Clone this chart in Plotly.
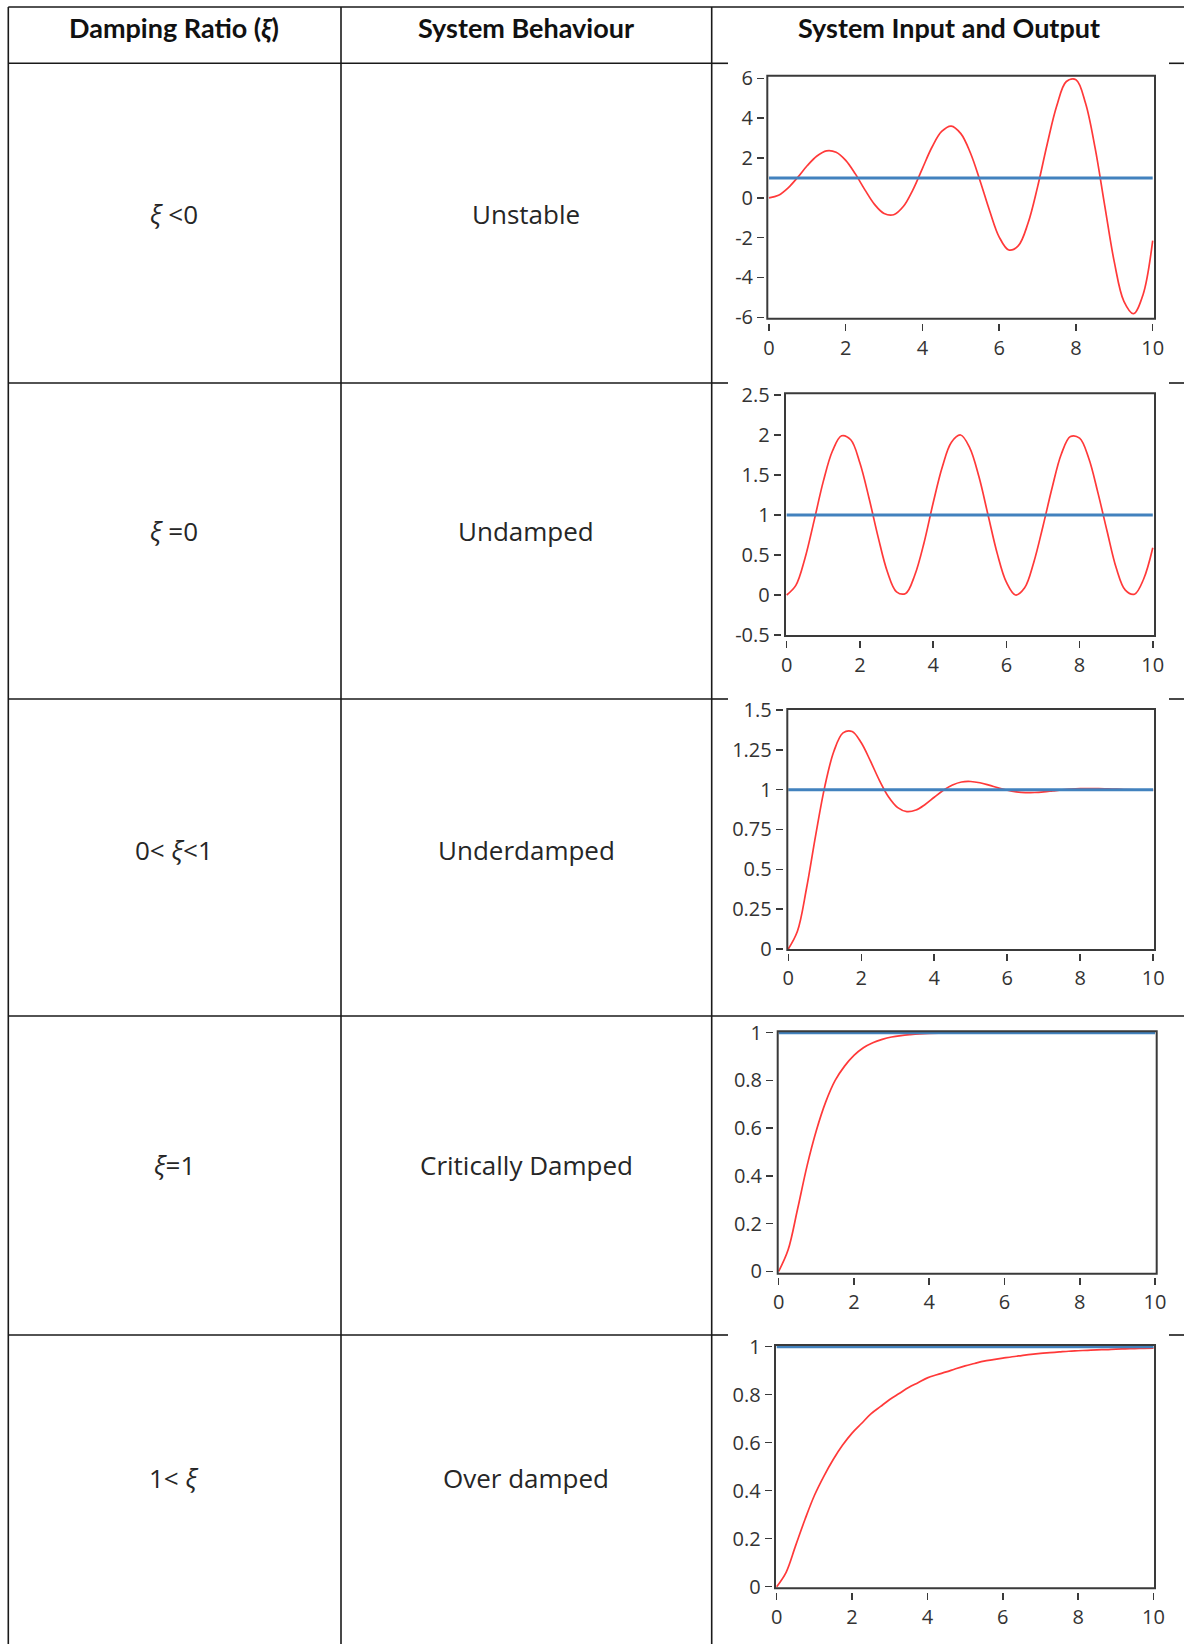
import plotly.graph_objects as go

# ---------------- data ----------------
t = [0, 0.25, 0.5, 0.75, 1, 1.25, 1.5, 1.75, 2, 2.25, 2.5, 2.75, 3, 3.25, 3.5, 3.75,
     4, 4.25, 4.5, 4.75, 5, 5.25, 5.5, 5.75, 6, 6.25, 6.5, 6.75, 7, 7.25, 7.5, 7.75,
     8, 8.25, 8.5, 8.75, 9, 9.25, 9.5, 9.75, 10]

unstable_out = [0, 0.13, 0.50, 1.03, 1.62, 2.10, 2.36, 2.29, 1.88, 1.20, 0.40, -0.33,
                -0.79, -0.85, -0.44, 0.40, 1.48, 2.55, 3.33, 3.60, 3.22, 2.25, 0.86,
                -0.65, -1.97, -2.62, -2.40, -1.28, 0.55, 2.69, 4.62, 5.84, 5.93, 4.75,
                2.49, -0.39, -3.23, -5.20, -5.82, -4.85, -2.15]

undamped_out = [0, 0.12, 0.46, 0.93, 1.42, 1.80, 1.99, 1.94, 1.65, 1.21, 0.72, 0.29,
                0.04, 0.02, 0.25, 0.65, 1.15, 1.60, 1.91, 2.00, 1.84, 1.48, 1.00, 0.52,
                0.16, 0.00, 0.09, 0.41, 0.86, 1.34, 1.76, 1.98, 1.96, 1.71, 1.28, 0.80,
                0.34, 0.06, 0.01, 0.20, 0.59]

underdamped_out = [0, 0.111, 0.381, 0.713, 1.019, 1.241, 1.356, 1.365, 1.294, 1.180,
                   1.057, 0.954, 0.887, 0.862, 0.872, 0.907, 0.952, 0.996, 1.029, 1.048,
                   1.051, 1.043, 1.028, 1.011, 0.996, 0.986, 0.981, 0.982, 0.986, 0.992,
                   0.998, 1.003, 1.006, 1.007, 1.007, 1.005, 1.003, 1.000, 0.998, 0.997,
                   0.997]

critical_out = [0, 0.09, 0.26, 0.44, 0.59, 0.71, 0.80, 0.86, 0.905, 0.937, 0.958, 0.972,
                0.982, 0.988, 0.992, 0.995, 0.997, 0.998, 0.998, 0.999, 0.999, 1.0, 1.0,
                1.0, 1.0, 1.0, 1.0, 1.0, 1.0, 1.0, 1.0, 1.0, 1.0, 1.0, 1.0, 1.0, 1.0,
                1.0, 1.0, 1.0, 1.0]

overdamped_out = [0, 0.06, 0.17, 0.28, 0.38, 0.46, 0.53, 0.59, 0.64, 0.68, 0.72, 0.75,
                  0.78, 0.805, 0.83, 0.85, 0.87, 0.883, 0.895, 0.908, 0.92, 0.93, 0.94,
                  0.946, 0.952, 0.958, 0.963, 0.968, 0.972, 0.975, 0.978, 0.981, 0.983,
                  0.985, 0.987, 0.988, 0.99, 0.991, 0.992, 0.993, 0.994]

step_t = [0, 10]
step_in = [1, 1]

header_labels = ["<b>Damping Ratio (<i>ξ</i>)</b>", "<b>System Behaviour</b>",
                 "<b>System Input and Output</b>"]
damping_labels = ["<i>ξ</i> <0", "<i>ξ</i> =0", "0< <i>ξ</i><1", "<i>ξ</i>=1", "1< <i>ξ</i>"]
behaviour_labels = ["Unstable", "Undamped", "Underdamped", "Critically Damped", "Over damped"]

x_tickvals = [0, 2, 4, 6, 8, 10]
x_ticktext = ["0", "2", "4", "6", "8", "10"]

y_tickvals = [
    [-6, -4, -2, 0, 2, 4, 6],
    [-0.5, 0, 0.5, 1, 1.5, 2, 2.5],
    [0, 0.25, 0.5, 0.75, 1, 1.25, 1.5],
    [0, 0.2, 0.4, 0.6, 0.8, 1],
    [0, 0.2, 0.4, 0.6, 0.8, 1],
]
y_ticktext = [
    ["-6", "-4", "-2", "0", "2", "4", "6"],
    ["-0.5", "0", "0.5", "1", "1.5", "2", "2.5"],
    ["0", "0.25", "0.5", "0.75", "1", "1.25", "1.5"],
    ["0", "0.2", "0.4", "0.6", "0.8", "1"],
    ["0", "0.2", "0.4", "0.6", "0.8", "1"],
]
outputs = [unstable_out, undamped_out, underdamped_out, critical_out, overdamped_out]

# ---------------- layout geometry (pixels) ----------------
W, H = 1184, 1644


def fx(p):
    return p / W


def fy(p):
    return 1 - p / H


# box: left, right, top, bottom ; axis ranges ; positions of axis lines
panels = [
    dict(box=(767.3, 1155, 75.7, 318.7), xr=(-0.044, 10.06), yr=(-6.07, 6.13), yax=764, xax=323),
    dict(box=(785, 1155, 393.3, 636), xr=(-0.046, 10.06), yr=(-0.5125, 2.521), yax=780.7, xax=640),
    dict(box=(787.3, 1155, 709, 950), xr=(-0.027, 10.05), yr=(-0.0063, 1.506), yax=782.7, xax=953),
    dict(box=(777.7, 1156.7, 1031.3, 1273.7), xr=(-0.027, 10.045), yr=(-0.010, 1.006), yax=773, xax=1277),
    dict(box=(775, 1155, 1345, 1588.3), xr=(-0.045, 10.04), yr=(-0.0067, 1.007), yax=771.7, xax=1591.7),
]

RED = "rgba(255,40,40,0.92)"
BLUE = "#4282be"
AX = "#3a3a3a"
TICKFONT = dict(family="Open Sans", size=20, color="#333333")

fig = go.Figure()
layout = dict(
    template="none",
    width=W, height=H, margin=dict(l=0, r=0, t=0, b=0, pad=0, autoexpand=False),
    paper_bgcolor="white", plot_bgcolor="white", showlegend=False,
)
shapes = []
annotations = []

for i, p in enumerate(panels):
    n = "" if i == 0 else str(i + 1)
    xa, ya = "x" + n, "y" + n
    fig.add_trace(go.Scatter(x=t, y=outputs[i], xaxis=xa, yaxis=ya, mode="lines",
                             line=dict(color=RED, width=1.7, shape="spline", smoothing=1.0),
                             hoverinfo="skip"))
    fig.add_trace(go.Scatter(x=step_t, y=step_in, xaxis=xa, yaxis=ya, mode="lines",
                             line=dict(color=BLUE, width=3), hoverinfo="skip"))
    l, r, tp, b = p["box"]
    layout["xaxis" + n] = dict(
        domain=[fx(l), fx(r)], range=list(p["xr"]), anchor="free", position=fy(p["xax"]),
        automargin=False, showgrid=False, zeroline=False, showline=False, ticks="outside",
        ticklen=7, tickwidth=1.5, tickcolor=AX, tickvals=x_tickvals, ticktext=x_ticktext,
        tickfont=TICKFONT,
    )
    layout["yaxis" + n] = dict(
        domain=[fy(b), fy(tp)], range=list(p["yr"]), anchor="free", position=fx(p["yax"]),
        automargin=False, showgrid=False, zeroline=False, showline=False, ticks="outside",
        ticklen=7, tickwidth=1.5, tickcolor=AX, tickvals=y_tickvals[i], ticktext=y_ticktext[i],
        tickfont=TICKFONT,
    )
    shapes.append(dict(type="rect", xref=xa + " domain", yref=ya + " domain",
                       x0=0, x1=1, y0=0, y1=1, line=dict(color=AX, width=2),
                       layer="above"))

# ---------------- table lines ----------------
LINE = dict(color="#1a1a1a", width=1.6)
top_y, left_x, col2_x, col3_x, right_x = 7, 8.3, 341, 711.7, 1190
row_ys = [63.3, 383, 699, 1016, 1335]
full_rows = [False, False, False, True, False]


def hline(x0, x1, y):
    shapes.append(dict(type="line", xref="paper", yref="paper", x0=fx(x0), x1=fx(x1),
                       y0=fy(y), y1=fy(y), line=LINE))


def vline(x, y0, y1):
    shapes.append(dict(type="line", xref="paper", yref="paper", x0=fx(x), x1=fx(x),
                       y0=fy(y0), y1=fy(y1), line=LINE))


hline(left_x, right_x, top_y)
for y, full in zip(row_ys, full_rows):
    hline(left_x, col3_x, y)
    if full:
        hline(col3_x, right_x, y)
    else:
        hline(col3_x, 728, y)
        hline(1169, right_x, y)
for x in (left_x, col2_x, col3_x):
    vline(x, top_y, H + 5)

# ---------------- texts ----------------
HEADFONT = dict(family="Lato", size=27, color="#111111")
CELLFONT = dict(family="Open Sans", size=26, color="#262626")
head_x = [174.5, 526, 949]
for txt, x in zip(header_labels, head_x):
    annotations.append(dict(text=txt, x=fx(x), y=fy(27.5), xref="paper", yref="paper",
                            xanchor="center", yanchor="middle", showarrow=False,
                            font=HEADFONT))
row_text_y = [214, 531, 850, 1165, 1478]
for d, beh, y in zip(damping_labels, behaviour_labels, row_text_y):
    annotations.append(dict(text=d, x=fx(174), y=fy(y), xref="paper", yref="paper",
                            xanchor="center", yanchor="middle", showarrow=False,
                            font=CELLFONT))
    annotations.append(dict(text=beh, x=fx(526), y=fy(y), xref="paper", yref="paper",
                            xanchor="center", yanchor="middle", showarrow=False,
                            font=CELLFONT))

layout["shapes"] = shapes
layout["annotations"] = annotations
fig.update_layout(**layout)
fig.write_html("out.html", config={"displayModeBar": False, "staticPlot": True},
               post_script="document.body.style.margin='0';document.body.style.padding='0';")
